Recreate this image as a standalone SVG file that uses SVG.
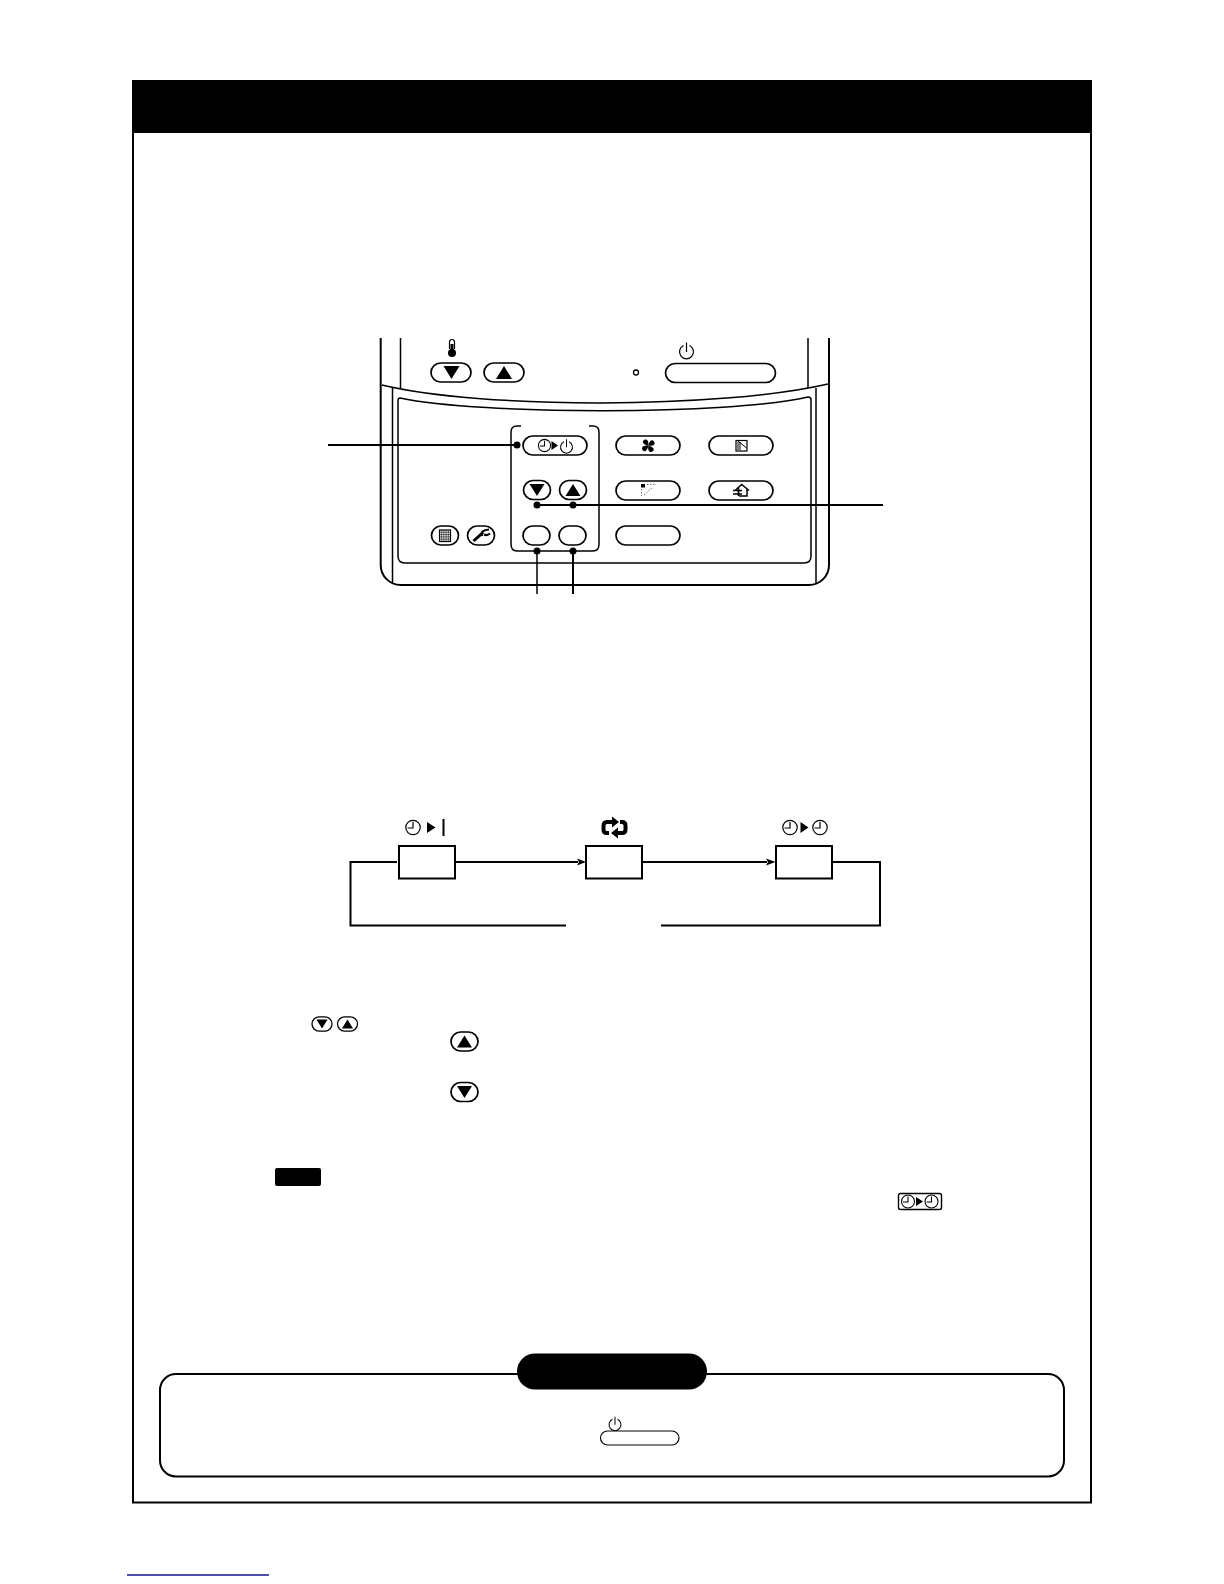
<svg xmlns="http://www.w3.org/2000/svg" width="1224" height="1584" viewBox="0 0 1224 1584">
<defs>
<style>
.l{fill:none;stroke:#000;stroke-width:1.5}
.t{fill:none;stroke:#000;stroke-width:2}
.b{fill:#fff;stroke:#000;stroke-width:1.7}
.k{fill:#000}
.i{fill:none;stroke:#000;stroke-width:1.2}
</style>
<g id="clock"><circle r="7.200" class="i"/><path d="M0-5.500V0.500H-5.500" class="i"/></g>
<g id="pwr"><path d="M-3-5.500A7 7 0 1 0 3-5.500M0-8.500V1" class="i"/></g>
<g id="dn"><rect x="-13.500" y="-9.500" width="27" height="19" rx="9.500" class="b"/><path d="M-7.500-6H7.500L0 6Z" class="k"/></g>
<g id="up"><rect x="-13.500" y="-9.500" width="27" height="19" rx="9.500" class="b"/><path d="M-7.500 6H7.500L0-6Z" class="k"/></g>
<path id="blade" d="M0 0C-1.500-2-3-6-.5-7C3-8 5.500-4 0 0Z" class="k"/>
</defs>
<rect width="1224" height="1584" fill="#fff"/>
<g id="page-frame">
<rect x="133" y="81" width="958" height="1421.500" fill="#fff" stroke="#000" stroke-width="2"/>
<rect x="132" y="80" width="960" height="53" fill="#000"/>
</g>
<g id="remote">
<path class="t" d="M380.700 338V565A20 20 0 0 0 400.700 585H809A20 20 0 0 0 829 565V338"/>
<path class="l" d="M400.500 338V388M808 338V388"/>
<path class="l" d="M382 385C480 409 720 409 828 384"/>
<path class="l" d="M392.500 388V584M816 388V584"/>
<path class="l" fill="#fff" d="M400 398C480 415 730 415 808 397Q811 397 811 400V556Q811 563 804 563H405Q398 563 398 556V401Q398 398 400 398Z"/>
</g>
<g id="btn-temp">
<path d="M449.500 349V342a2.500 2.500 0 0 1 5 0V349" fill="#fff" stroke="#000" stroke-width="1.200"/>
<circle cx="452" cy="353" r="4" class="k"/><path d="M450.500 344V350H453.500V344Z" class="k"/>
<rect x="431" y="363" width="40" height="19" rx="9.500" class="b"/>
<path class="k" d="M443.500 366H459.500L451.500 379Z"/>
<rect x="484" y="363" width="40" height="19" rx="9.500" class="b"/>
<path class="k" d="M496 379H512L504 366Z"/>
</g>
<g id="btn-power">
<circle cx="636" cy="372.500" r="2.500" fill="#fff" stroke="#000" stroke-width="1.300"/>
<use href="#pwr" x="686.500" y="351"/>
<rect x="665.500" y="363.500" width="110" height="19" rx="9.500" class="b"/>
</g>
<g id="group-bracket">
<path class="l" d="M521 426H517Q511 426 511 432V544Q511 551 517 551H593Q599 551 599 544V432Q599 426 593 426H589"/>
</g>
<g id="btn-timer">
<rect x="523" y="436" width="64" height="19" rx="9.500" class="b"/>
<use href="#clock" transform="translate(544.500 445.500) scale(.85)"/><path class="k" d="M551.500 441L558 445.500L551.500 450Z"/><use href="#pwr" transform="translate(566.500 446.500) scale(.85)"/>
</g>
<use id="btn-down" href="#dn" x="537" y="490"/>
<use id="btn-up" href="#up" x="573" y="490"/>
<g id="btn-a"><rect x="523" y="526" width="27" height="19" rx="9.500" class="b"/></g>
<g id="btn-b"><rect x="559" y="526" width="27" height="19" rx="9.500" class="b"/></g>
<g id="btn-fan">
<rect x="616" y="436" width="64" height="19" rx="9.500" class="b"/>
<g transform="translate(648.300 445.700) rotate(-45)"><use href="#blade"/><use href="#blade" transform="rotate(90)"/><use href="#blade" transform="rotate(180)"/><use href="#blade" transform="rotate(270)"/></g>
</g>
<g id="btn-filter">
<rect x="709" y="436" width="64" height="19" rx="9.500" class="b"/>
<rect x="736" y="440.500" width="11" height="10.500" fill="#fff" stroke="#000" stroke-width="1.200"/>
<path d="M737 443H741M737 445H741M737 447H741M737 449H741M738 441L746.500 448" stroke="#000" stroke-width="1"/>
</g>
<g id="btn-louver">
<rect x="616" y="481" width="64" height="19" rx="9.500" class="b"/>
<path class="k" d="M641 484H645V487.500H641Z"/><path d="M647 484.500H655M641.500 489V496M644 495L652 488" fill="none" stroke="#444" stroke-width=".8" stroke-dasharray="1.500 1.500"/>
</g>
<g id="btn-vent">
<rect x="709" y="481" width="64" height="19" rx="9.500" class="b"/>
<path d="M735.500 490L741.700 484.500L749 490.500M747 488.500V496H739" class="l"/><path d="M733 490.500H742M733 494H742M738.500 487.500V496" stroke="#000" stroke-width="1.700"/>
</g>
<g id="btn-blank"><rect x="616" y="526" width="64" height="19" rx="9.500" class="b"/></g>
<g id="btn-grid">
<rect x="431.500" y="526" width="27" height="19" rx="9.500" class="b"/>
<rect x="439.500" y="530" width="11" height="11.500" fill="#fff" stroke="#000" stroke-width="1.200"/>
<path d="M441.700 530V541.500M443.900 530V541.500M446.100 530V541.500M448.300 530V541.500M439.500 532.300H450.500M439.500 534.600H450.500M439.500 536.900H450.500M439.500 539.200H450.500" stroke="#000" stroke-width=".6"/>
</g>
<g id="btn-wrench">
<rect x="467.500" y="526" width="27" height="19" rx="9.500" class="b"/>
<path d="M473.500 541L483 532.500" stroke="#000" stroke-width="3"/><path d="M482 536Q480 530 489 529.500M484 534.500Q487 536 490 533.500" fill="none" stroke="#000" stroke-width="2.200"/>
</g>
<g id="connectors">
<path class="t" d="M328 445H517M537 505H883M573 551V594"/>
<path d="M537 551V594" stroke="#000" stroke-width="1.500"/>
<circle cx="517" cy="445" r="3.500" class="k"/><circle cx="537" cy="505" r="3.500" class="k"/><circle cx="573" cy="505" r="3.500" class="k"/><circle cx="537" cy="551" r="3.500" class="k"/><circle cx="573" cy="551" r="3.500" class="k"/>
<path class="t" d="M397 862H350.500V925.500H566M661 925.500H880V862H833"/>
<path class="t" d="M456 862H578M642 862H767"/>
<path class="k" d="M577 858.500L586 862L577 865.500L579 862ZM766 858.500L775.500 862L766 865.500L768 862Z"/>
</g>
<g id="mode-1"><rect x="399" y="846" width="56" height="32.500" fill="#fff" stroke="#000" stroke-width="2"/>
<use href="#clock" x="413" y="827.500"/><path class="k" d="M427 822L435.500 827.500L427 833Z"/><path d="M443.500 819V836" stroke="#000" stroke-width="2"/></g>
<g id="mode-2"><rect x="586" y="846" width="56" height="32.500" fill="#fff" stroke="#000" stroke-width="2"/>
<path d="M613 822H607Q603.500 822 603.500 826V829.500Q603.500 833 607 833H609M617 833H622Q625.500 833 625.500 829.500V825.500Q625.500 822 622 822H620" fill="none" stroke="#000" stroke-width="4"/>
<path class="k" d="M612 816.500L619 822L612 827.500ZM618 827.500L611 833L618 838.500Z"/></g>
<g id="mode-3"><rect x="776" y="846" width="56" height="32.500" fill="#fff" stroke="#000" stroke-width="2"/>
<use href="#clock" x="790" y="827.500"/><path class="k" d="M800.500 822L808.500 827.500L800.500 833Z"/><use href="#clock" x="820" y="827.500"/></g>
<g id="icons-text">
<use href="#dn" transform="translate(322 1024) scale(.74)"/>
<use href="#up" transform="translate(347.500 1024) scale(.74)"/>
<use href="#up" x="464.500" y="1041.500"/>
<use href="#dn" x="464.500" y="1092"/>
<rect x="275" y="1168" width="46" height="18" rx="2" class="k"/>
<rect x="898.500" y="1193.500" width="43" height="16" rx="2" fill="#fff" stroke="#000" stroke-width="1.400"/>
<use href="#clock" transform="translate(908 1201.500) scale(.9)"/><path class="k" d="M916 1197L923 1201.500L916 1206Z"/><use href="#clock" transform="translate(931.500 1201.500) scale(.9)"/>
</g>
<g id="note">
<rect x="160" y="1374" width="904" height="102.500" rx="16" fill="#fff" stroke="#000" stroke-width="2"/>
<rect x="517" y="1353.500" width="190" height="36" rx="18" class="k"/>
<use href="#pwr" transform="translate(615 1424) scale(.85)"/>
<rect x="600.500" y="1431" width="78.500" height="14" rx="7" fill="#fff" stroke="#000" stroke-width="1.200"/>
</g>
<path id="page-link" d="M127 1575H269" stroke="#14148c" stroke-width="1.300"/>
</svg>
